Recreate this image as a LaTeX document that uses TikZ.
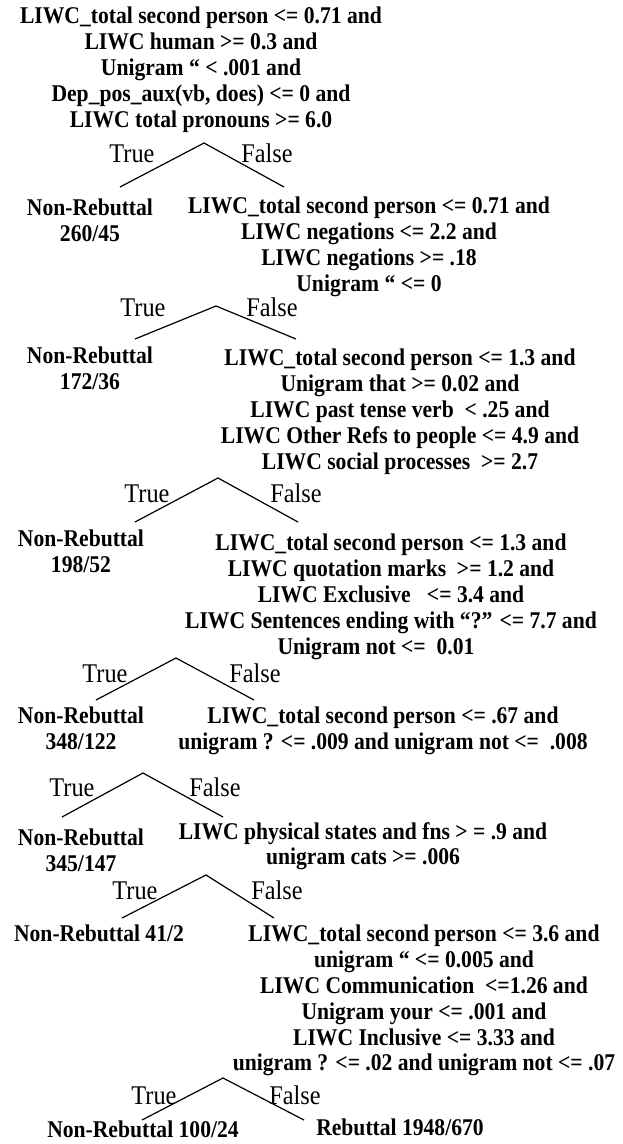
\documentclass[tikz,border=0pt]{standalone}
\usepackage{fontspec}
\setmainfont{Liberation Serif}[FakeStretch=0.9]
\begin{document}
\begin{tikzpicture}[x=1pt,y=-1pt,
  cond/.style={align=center, inner sep=0pt, anchor=north, font=\fontsize{24}{25.8}\selectfont\bfseries},
  leaf/.style={cond},
  lab/.style={anchor=base, inner sep=0pt, font=\fontsize{27}{30}\selectfont},
  leg/.style={line width=1.2pt}]
\fill[white] (0,0) rectangle (622,1144);
\useasboundingbox (0,0) rectangle (622,1144);

% condition blocks
\node[cond] (c1) at (201,7) {LIWC\_total second person <= 0.71 and\\LIWC human >= 0.3 and\\Unigram “ < .001 and\\Dep\_pos\_aux(vb, does) <= 0 and\\LIWC total pronouns >= 6.0};
\node[cond] (c2) at (369,197) {LIWC\_total second person <= 0.71 and\\LIWC negations <= 2.2 and\\LIWC negations >= .18\\Unigram “ <= 0};
\node[cond] (c3) at (400,349) {LIWC\_total second person <= 1.3 and\\Unigram that >= 0.02 and\\LIWC past tense verb~ < .25 and\\LIWC Other Refs to people <= 4.9 and\\LIWC social processes~ >= 2.7};
\node[cond] (c4) at (391,534) {LIWC\_total second person <= 1.3 and\\LIWC quotation marks~ >= 1.2 and\\LIWC Exclusive~~ <= 3.4 and\\LIWC Sentences ending with “?” <= 7.7 and\\Unigram not <=~ 0.01\hspace*{30pt}};
\node[cond] (c5) at (383,707) {LIWC\_total second person <= .67 and\\unigram ? <= .009 and unigram not <=~ .008};
\node[cond] (c6) at (363,822) {LIWC physical states and fns > = .9 and\\unigram cats >= .006};
\node[cond] (c7) at (424,925) {LIWC\_total second person <= 3.6 and\\unigram “ <= 0.005 and\\LIWC Communication~ <=1.26 and\\Unigram your <= .001 and\\LIWC Inclusive <= 3.33 and\\unigram ? <= .02 and unigram not <= .07};

% leaves
\node[leaf] (l1) at (90,199) {Non-Rebuttal\\260/45};
\node[leaf] (l2) at (90,347) {Non-Rebuttal\\172/36};
\node[leaf] (l3) at (81,530) {Non-Rebuttal\\198/52};
\node[leaf] (l4) at (81,707) {Non-Rebuttal\\348/122};
\node[leaf] (l5) at (81,829) {Non-Rebuttal\\345/147};
\node[leaf] (l6) at (99,925) {Non-Rebuttal 41/2};
\node[leaf] (l7) at (143,1121) {Non-Rebuttal 100/24};
\node[leaf] (r7) at (400,1119) {Rebuttal 1948/670};

% splits: apex and leg ends
\coordinate (a1) at (204,143); \coordinate (a1t) at (120,187); \coordinate (a1f) at (284,187);
\coordinate (a2) at (216,306); \coordinate (a2t) at (135,339); \coordinate (a2f) at (296,339);
\coordinate (a3) at (218,478); \coordinate (a3t) at (135,522); \coordinate (a3f) at (298,522);
\coordinate (a4) at (176,658); \coordinate (a4t) at (96,700);  \coordinate (a4f) at (254,700);
\coordinate (a5) at (143,773); \coordinate (a5t) at (62,817);  \coordinate (a5f) at (223,817);
\coordinate (a6) at (206,875); \coordinate (a6t) at (122,918); \coordinate (a6f) at (274,918);
\coordinate (a7) at (223,1078); \coordinate (a7t) at (142,1120); \coordinate (a7f) at (304,1120);

\foreach \i in {1,...,7}{
  \draw[leg] (a\i t) -- (a\i) -- (a\i f);
}

% True / False labels
\node[lab] (t1) at (132,162) {True};  \node[lab] (f1) at (267,162) {False};
\node[lab] (t2) at (143,316) {True};  \node[lab] (f2) at (272,316) {False};
\node[lab] (t3) at (147,502) {True};  \node[lab] (f3) at (296,502) {False};
\node[lab] (t4) at (105,682) {True};  \node[lab] (f4) at (255,682) {False};
\node[lab] (t5) at (72,796)  {True};  \node[lab] (f5) at (215,796) {False};
\node[lab] (t6) at (135,899) {True};  \node[lab] (f6) at (277,899) {False};
\node[lab] (t7) at (154,1104) {True}; \node[lab] (f7) at (295,1104) {False};
\end{tikzpicture}
\end{document}
